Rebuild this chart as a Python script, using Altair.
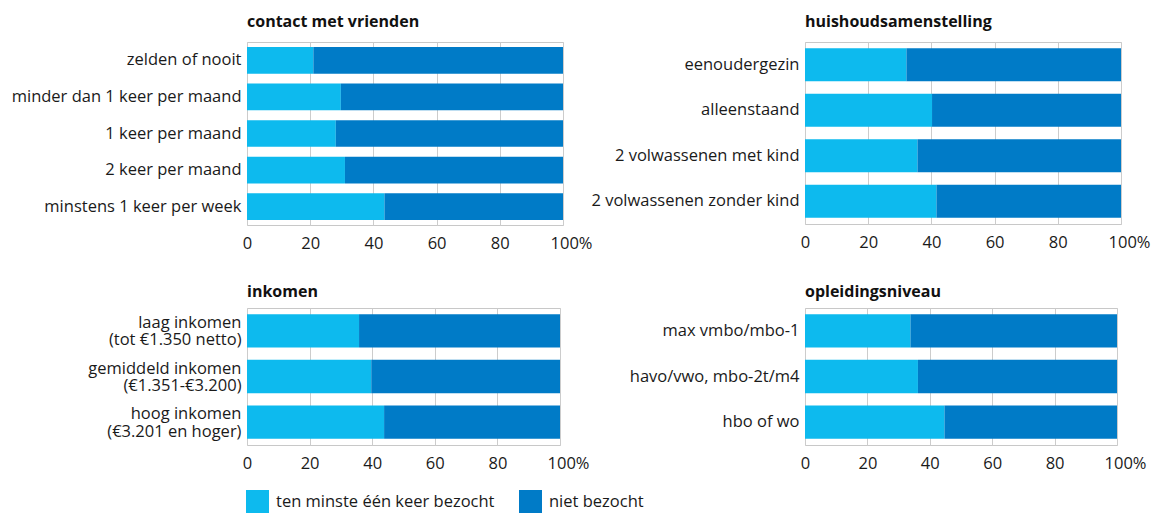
import altair as alt
import pandas as pd

series = ["ten minste één keer bezocht", "niet bezocht"]
colors = ["#0DBAEE", "#007BC7"]

contact_title = "contact met vrienden"
contact_cats = ["zelden of nooit", "minder dan 1 keer per maand", "1 keer per maand",
                "2 keer per maand", "minstens 1 keer per week"]
contact_vals = [21.0, 29.7, 28.1, 31.0, 43.5]

huis_title = "huishoudsamenstelling"
huis_cats = ["eenoudergezin", "alleenstaand", "2 volwassenen met kind", "2 volwassenen zonder kind"]
huis_vals = [32.1, 40.2, 35.6, 41.6]

ink_title = "inkomen"
ink_cats = ["laag inkomen|(tot €1.350 netto)", "gemiddeld inkomen|(€1.351-€3.200)",
            "hoog inkomen|(€3.201 en hoger)"]
ink_vals = [35.8, 39.7, 43.8]

opl_title = "opleidingsniveau"
opl_cats = ["max vmbo/mbo-1", "havo/vwo, mbo-2t/m4", "hbo of wo"]
opl_vals = [33.8, 36.2, 44.7]

x_ticks = [0, 20, 40, 60, 80, 100]
FONT = "Open Sans"
LBL = 16.5


def panel(title, cats, vals, w, h, y_offset=0, title_offset=12):
    rows = []
    for c, v in zip(cats, vals):
        rows.append({"cat": c, "series": series[0], "val": v, "o": 0})
        rows.append({"cat": c, "series": series[1], "val": 100 - v, "o": 1})
    df = pd.DataFrame(rows)
    return alt.Chart(df, title=alt.Title(title, anchor="start", frame="group", fontWeight="bold",
                                         fontSize=16, font=FONT, offset=title_offset,
                                         color="#111")).mark_bar().encode(
        y=alt.Y("cat:N", sort=cats, title=None,
                scale=alt.Scale(paddingInner=0.27, paddingOuter=0.135),
                axis=alt.Axis(labelExpr="split(datum.label, '|')", ticks=False, domain=False,
                              labelPadding=6, labelFontSize=LBL, labelColor="#1a1a1a",
                              labelFont=FONT, labelLineHeight=17.5, labelLimit=400,
                              labelOffset=y_offset)),
        x=alt.X("val:Q", stack="zero", title=None,
                scale=alt.Scale(domain=[0, 100], nice=False),
                axis=alt.Axis(values=x_ticks, ticks=False, domain=False,
                              labelExpr="datum.value == 100 ? '100%' : datum.label",
                              labelOffset={"condition": {"test": "datum.value == 100", "value": 8}, "value": 0},
                              labelPadding=10, labelFontSize=LBL, labelColor="#1a1a1a", labelFont=FONT,
                              grid=True, gridColor="#cccccc", labelFlush=False)),
        color=alt.Color("series:N", scale=alt.Scale(domain=series, range=colors),
                        legend=alt.Legend(title=None)),
        order=alt.Order("o:Q"),
    ).properties(width=w, height=h)


p1 = panel(contact_title, contact_cats, contact_vals, 316, 183)
p2 = panel(huis_title, huis_cats, huis_vals, 316, 182)
p3 = panel(ink_title, ink_cats, ink_vals, 313, 137, y_offset=-8, title_offset=8)
p4 = panel(opl_title, opl_cats, opl_vals, 312, 137, title_offset=8)

chart = alt.concat(p1, p2, p3, p4, columns=2, spacing={"row": 83, "column": 242},
                   bounds="flush").properties(
    padding={"left": 2, "top": 5, "right": 0, "bottom": 0}
).configure_view(
    stroke="#c8c8c8", strokeWidth=1
).configure_legend(
    orient="none", legendX=-1, legendY=448, direction="horizontal",
    symbolType="square", symbolSize=529, symbolStrokeWidth=0,
    labelFontSize=LBL, labelFont=FONT, labelColor="#1a1a1a", labelOffset=7,
    columnPadding=24, labelLimit=400
)

chart.save("out.html", embed_options={"renderer": "svg", "actions": False})
